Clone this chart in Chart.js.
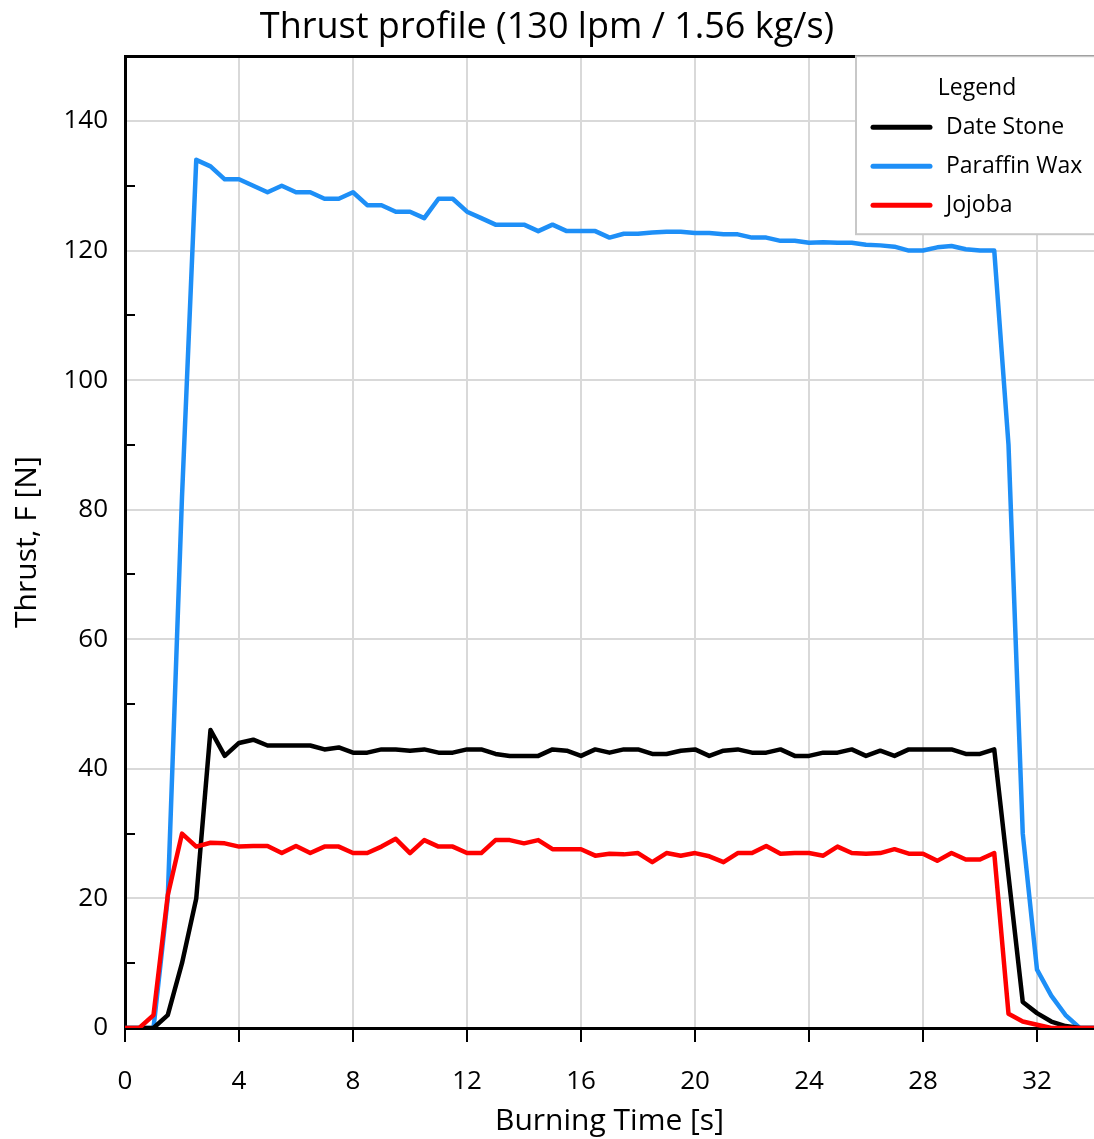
<!DOCTYPE html>
<html>
<head>
<meta charset="utf-8">
<script src="https://cdn.jsdelivr.net/npm/chart.js@4.4.0/dist/chart.umd.min.js"></script>
<style>
html, body { margin: 0; padding: 0; background: #fff; }
#wrap { width: 1094px; height: 1139px; position: relative; }
</style>
</head>
<body>
<div id="wrap"><canvas id="thrust"></canvas></div>
<script>
// burning time [s], one sample every half second
const times = [0, 0.5, 1, 1.5, 2, 2.5, 3, 3.5, 4, 4.5, 5, 5.5, 6, 6.5, 7, 7.5, 8, 8.5, 9, 9.5,
    10, 10.5, 11, 11.5, 12, 12.5, 13, 13.5, 14, 14.5, 15, 15.5, 16, 16.5, 17, 17.5, 18, 18.5, 19, 19.5,
    20, 20.5, 21, 21.5, 22, 22.5, 23, 23.5, 24, 24.5, 25, 25.5, 26, 26.5, 27, 27.5, 28, 28.5, 29, 29.5,
    30, 30.5, 31, 31.5, 32, 32.5, 33, 33.5, 34];

// thrust [N]
const dateStone = [0, 0, 0, 2, 10, 20, 46, 42, 44, 44.5, 43.6, 43.6, 43.6, 43.6, 43, 43.3, 42.5, 42.5, 43, 43,
    42.8, 43, 42.5, 42.5, 43, 43, 42.3, 42, 42, 42, 43, 42.8, 42, 43, 42.5, 43, 43, 42.3, 42.3, 42.8,
    43, 42, 42.8, 43, 42.5, 42.5, 43, 42, 42, 42.5, 42.5, 43, 42, 42.8, 42, 43, 43, 43, 43, 42.3,
    42.3, 43, 23.5, 4, 2.3, 1, 0.3, 0, 0];

const paraffinWax = [0, 0, 0, 20, 82, 134, 133, 131, 131, 130, 129, 130, 129, 129, 128, 128, 129, 127, 127, 126,
    126, 125, 128, 128, 126, 125, 124, 124, 124, 123, 124, 123, 123, 123, 122, 122.6, 122.6, 122.8, 122.9, 122.9,
    122.7, 122.7, 122.5, 122.5, 122, 122, 121.5, 121.5, 121.2, 121.3, 121.2, 121.2, 120.9, 120.8, 120.6, 120, 120, 120.5, 120.7, 120.2,
    120, 120, 90, 30, 9, 5, 2, 0, 0];

const jojoba = [0, 0, 2, 20.5, 30, 28, 28.6, 28.5, 28, 28.1, 28.1, 27, 28.1, 27, 28, 28, 27, 27, 28, 29.2,
    27, 29, 28, 28, 27, 27, 29, 29, 28.5, 29, 27.6, 27.6, 27.6, 26.6, 26.9, 26.8, 27, 25.6, 27, 26.6,
    27, 26.5, 25.6, 27, 27, 28.1, 26.9, 27, 27, 26.6, 28, 27, 26.9, 27, 27.6, 26.9, 26.9, 25.8, 27, 26,
    26, 27, 2.2, 1, 0.5, 0, 0, 0, 0];

const seriesNames = ["Date Stone", "Paraffin Wax", "Jojoba"];
const seriesColors = ["#000000", "#1e8ff7", "#ff0000"];

function toPoints(values) {
    return times.map((t, i) => ({ x: t, y: values[i] }));
}

const FONT = "'Open Sans', 'Noto Sans', sans-serif";
Chart.defaults.font.family = FONT;
Chart.defaults.color = "#000";

// legend box in the top right corner of the plot
const legendBox = {
    id: "legendBox",
    afterDraw(chart) {
        const ctx = chart.ctx;
        const left = 856, top = chart.chartArea.top;
        ctx.save();
        ctx.fillStyle = "#fff";
        ctx.fillRect(left, top, 260, 178);
        ctx.strokeStyle = "#c8c8c8";
        ctx.lineWidth = 2;
        ctx.strokeRect(left, top, 260, 178);
        ctx.fillStyle = "#000";
        ctx.font = "23px " + FONT;
        ctx.textBaseline = "middle";
        ctx.textAlign = "center";
        ctx.fillText("Legend", 977, top + 32);
        ctx.textAlign = "left";
        seriesNames.forEach((name, i) => {
            const y = top + 71 + i * 39;
            ctx.strokeStyle = seriesColors[i];
            ctx.lineWidth = 5;
            ctx.lineCap = "round";
            ctx.beginPath();
            ctx.moveTo(873, y);
            ctx.lineTo(930, y);
            ctx.stroke();
            ctx.fillText(name, 946, y);
        });
        ctx.restore();
    }
};

new Chart(document.getElementById("thrust"), {
    type: "line",
    data: {
        datasets: [
            { label: seriesNames[0], data: toPoints(dateStone), borderColor: seriesColors[0], order: 1 },
            { label: seriesNames[1], data: toPoints(paraffinWax), borderColor: seriesColors[1], order: 2 },
            { label: seriesNames[2], data: toPoints(jojoba), borderColor: seriesColors[2], order: 0 }
        ]
    },
    options: {
        responsive: true,
        maintainAspectRatio: false,
        animation: false,
        layout: { padding: 0 },
        elements: {
            point: { radius: 0 },
            line: { borderWidth: 4.5, tension: 0, borderJoinStyle: "round" }
        },
        plugins: {
            legend: { display: false },
            tooltip: { enabled: false },
            title: {
                display: true,
                text: "Thrust profile (130 lpm / 1.56 kg/s)",
                color: "#000",
                font: { size: 36, weight: "normal" },
                padding: { top: 6, bottom: 7 }
            }
        },
        scales: {
            x: {
                type: "linear",
                min: 0,
                max: 34,
                ticks: { stepSize: 4, includeBounds: false, maxRotation: 0, padding: 24, font: { size: 26 } },
                grid: { color: "#d9d9d9", lineWidth: 2, tickColor: "#000", tickLength: 14, tickWidth: 2 },
                border: { color: "#000", width: 3 },
                title: { display: true, text: "Burning Time [s]", font: { size: 30 }, padding: { top: 0, bottom: 0 } },
                afterFit(scale) { scale.height = 111; }
            },
            y: {
                min: 0,
                max: 150,
                ticks: {
                    stepSize: 10,
                    autoSkip: false,
                    padding: 27,
                    font: { size: 26 },
                    callback: v => (v % 20 === 0 ? v : "")
                },
                grid: {
                    color: c => c.tick.value === 150 ? "#000" : (c.tick.value % 20 === 0 ? "#d9d9d9" : "rgba(0,0,0,0)"),
                    lineWidth: c => (c.tick.value === 150 ? 3 : 2),
                    tickColor: c => (c.tick.value % 20 === 0 || c.tick.value === 150 ? "rgba(0,0,0,0)" : "#000"),
                    tickLength: -10,
                    tickWidth: 2
                },
                border: { color: "#000", width: 3 },
                title: { display: true, text: "Thrust, F [N]", font: { size: 30 }, padding: { top: 9, bottom: 0 } },
                afterFit(scale) { scale.width = 125; }
            }
        }
    },
    plugins: [legendBox]
});
</script>
</body>
</html>
